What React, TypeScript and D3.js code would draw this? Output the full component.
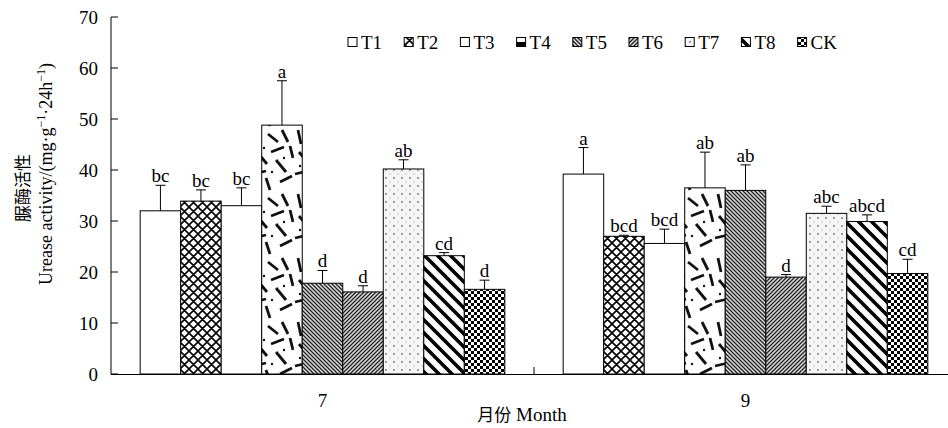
import * as d3 from 'd3'

const months = ['7', '9']
const series = ['T1', 'T2', 'T3', 'T4', 'T5', 'T6', 'T7', 'T8', 'CK']
const means7 = [32.0, 33.9, 33.0, 48.8, 17.8, 16.1, 40.2, 23.2, 16.6]
const means9 = [39.2, 27.0, 25.6, 36.5, 36.0, 19.0, 31.5, 29.9, 19.7]
const errs7 = [5.0, 2.2, 3.5, 8.7, 2.5, 1.2, 1.8, 0.6, 1.8]
const errs9 = [5.2, 0.2, 2.8, 7.0, 5.0, 0.5, 1.4, 1.3, 2.8]
const letters7 = ['bc', 'bc', 'bc', 'a', 'd', 'd', 'ab', 'cd', 'd']
const letters9 = ['a', 'bcd', 'bcd', 'ab', 'ab', 'd', 'abc', 'abcd', 'cd']
const yTicks = [0, 10, 20, 30, 40, 50, 60, 70]

const W = 948
const H = 428
const serif = '"Liberation Serif", "Times New Roman", serif'
const cjk = '"Noto Sans CJK SC", sans-serif'

// 每个处理的填充图案
const fills: Record<string, string> = {
  T1: '#fff',
  T2: 'url(#p-cross)',
  T3: '#fff',
  T4: 'url(#p-dash)',
  T5: 'url(#p-back)',
  T6: 'url(#p-fwd)',
  T7: 'url(#p-dots)',
  T8: 'url(#p-wide)',
  CK: 'url(#p-check)',
}

// T4 随机短线图案 (手工放置)
const dashes = [
  [4, 2, 7, 16], [16, 6, 26, 14], [30, 2, 36, 14], [38, 18, 41, 30],
  [5, 24, 15, 36], [19, 24, 32, 19], [24, 32, 34, 44], [1, 46, 14, 43],
  [14, 50, 18, 62], [28, 54, 40, 48],
]
const dots = [[12, 20], [32, 30], [20, 44], [6, 38]]

export default function App() {
  const x0 = d3.scaleBand<string>().domain(months).range([111, 957]).padding(0)
  const x1 = d3.scaleBand<string>().domain(series).range([0, x0.bandwidth()]).paddingOuter(0.72).paddingInner(0)
  const y = d3.scaleLinear().domain([0, 70]).range([374, 17])

  const rows = months.map((m, mi) => {
    const means = mi === 0 ? means7 : means9
    const errs = mi === 0 ? errs7 : errs9
    const letters = mi === 0 ? letters7 : letters9
    return series.map((s, i) => ({ m, s, v: means[i], e: errs[i], l: letters[i] }))
  })

  const bw = x1.bandwidth()

  return (
    <svg width={W} height={H} style={{ position: 'absolute', left: 0, top: 0 }}>
      <defs>
        <pattern id="p-cross" patternUnits="userSpaceOnUse" width={9} height={9}>
          <rect width={9} height={9} fill="#fff" />
          <path d="M0,0 L9,9 M9,0 L0,9 M-1,8 L1,10 M8,-1 L10,1 M-1,1 L1,-1 M8,10 L10,8" stroke="#000" strokeWidth={1.6} />
        </pattern>
        <pattern id="p-dash" patternUnits="userSpaceOnUse" width={42} height={64}>
          <rect width={42} height={64} fill="#fff" />
          {dashes.map((d, i) => (
            <line key={i} x1={d[0]} y1={d[1]} x2={d[2]} y2={d[3]} stroke="#111" strokeWidth={2.8} />
          ))}
          {dots.map((d, i) => (
            <circle key={i} cx={d[0]} cy={d[1]} r={1.2} fill="#111" />
          ))}
        </pattern>
        <pattern id="p-back" patternUnits="userSpaceOnUse" width={4} height={4}>
          <rect width={4} height={4} fill="#ddd" />
          <path d="M-1,-1 L5,5 M-1,3 L1,5 M3,-1 L5,1" stroke="#222" strokeWidth={1.3} />
        </pattern>
        <pattern id="p-fwd" patternUnits="userSpaceOnUse" width={4} height={4}>
          <rect width={4} height={4} fill="#ddd" />
          <path d="M-1,5 L5,-1 M-1,1 L1,-1 M3,5 L5,3" stroke="#222" strokeWidth={1.3} />
        </pattern>
        <pattern id="p-dots" patternUnits="userSpaceOnUse" width={8} height={8}>
          <rect width={8} height={8} fill="#f6f6f6" />
          <circle cx={2} cy={2} r={1.1} fill="#888" />
          <circle cx={6} cy={6} r={0.8} fill="#bbb" />
        </pattern>
        <pattern id="p-wide" patternUnits="userSpaceOnUse" width={13} height={13}>
          <rect width={13} height={13} fill="#fff" />
          <path d="M-2,-2 L15,15 M-2,11 L2,15 M11,-2 L15,2" stroke="#000" strokeWidth={3.6} />
        </pattern>
        <pattern id="p-check" patternUnits="userSpaceOnUse" width={6} height={6}>
          <rect width={6} height={6} fill="#fff" />
          <rect width={3} height={3} fill="#000" />
          <rect x={3} y={3} width={3} height={3} fill="#000" />
        </pattern>
      </defs>

      {/* 坐标轴 */}
      <line x1={111} x2={111} y1={17} y2={374.5} stroke="#000" />
      <line x1={111} x2={W} y1={374.5} y2={374.5} stroke="#000" />
      {yTicks.map(t => (
        <g key={t}>
          <line x1={111} x2={118} y1={y(t)} y2={y(t)} stroke="#000" />
          <text x={98} y={y(t)} dy="0.35em" textAnchor="end" fontFamily={serif} fontSize={19}>{t}</text>
        </g>
      ))}
      {/* 月份分隔刻度 */}
      <line x1={x0('9')!} x2={x0('9')!} y1={374} y2={367} stroke="#000" />
      {months.map(m => (
        <text key={m} x={x0(m)! + x0.bandwidth() / 2} y={407} textAnchor="middle" fontFamily={serif} fontSize={19}>{m}</text>
      ))}

      {/* 柱子 + 误差线 + 字母 */}
      {rows.map(group =>
        group.map(d => {
          const bx = x0(d.m)! + x1(d.s)!
          const cx = bx + bw / 2
          const top = y(d.v)
          const et = y(d.v + d.e)
          return (
            <g key={d.m + d.s}>
              <rect x={bx} y={top} width={bw} height={y(0) - top} fill={fills[d.s]} stroke="#000" strokeWidth={1} />
              <line x1={cx} x2={cx} y1={top} y2={et} stroke="#000" />
              <line x1={cx - 5} x2={cx + 5} y1={et} y2={et} stroke="#000" />
              <text x={cx} y={et - 3} textAnchor="middle" fontFamily={serif} fontSize={19}>{d.l}</text>
            </g>
          )
        })
      )}

      {/* 图例 */}
      {series.map((s, i) => {
        const lx = 348 + i * 56.2
        return (
          <g key={s}>
            {s === 'T4' ? (
              <g>
                <rect x={lx} y={37.5} width={9} height={9} fill="#fff" stroke="#000" />
                <rect x={lx} y={42} width={9} height={4.5} fill="#000" />
              </g>
            ) : (
              <rect x={lx} y={37.5} width={9} height={9} fill={fills[s]} stroke="#000" />
            )}
            <text x={lx + 13} y={48.5} fontFamily={serif} fontSize={19}>{s}</text>
          </g>
        )
      })}

      {/* 轴标题 */}
      <text transform="translate(29,188) rotate(-90)" textAnchor="middle" fontFamily={cjk} fontSize={17}>脲酶活性</text>
      <text transform="translate(52,174) rotate(-90)" textAnchor="middle" fontFamily={serif} fontSize={18}>
        Urease activity/(mg·g<tspan dy={-7} fontSize={12}>−1</tspan><tspan dy={7}>·24h</tspan><tspan dy={-7} fontSize={12}>−1</tspan><tspan dy={7}>)</tspan>
      </text>
      <text x={522} y={421} textAnchor="middle" fontFamily={serif} fontSize={19}>
        <tspan fontFamily={cjk} fontSize={17}>月份</tspan> Month
      </text>
    </svg>
  )
}
